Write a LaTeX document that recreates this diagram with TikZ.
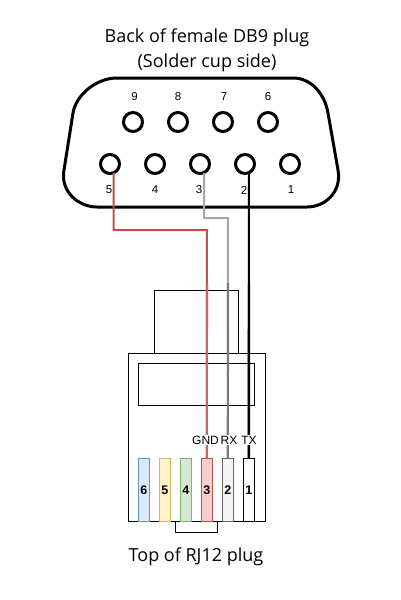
\documentclass[tikz,border=0pt]{standalone}
\usepackage{fontspec}
\setmainfont{Liberation Sans}
\newfontfamily\titlefont{Open Sans}
\definecolor{redw}{HTML}{B85450}
\definecolor{grayw}{HTML}{A6A6A6}
\definecolor{bluef}{HTML}{DAE8FC}\definecolor{blued}{HTML}{6C8EBF}
\definecolor{yelf}{HTML}{FFF2CC}\definecolor{yeld}{HTML}{D6B656}
\definecolor{grnf}{HTML}{D5E8D4}\definecolor{grnd}{HTML}{82B366}
\definecolor{redf}{HTML}{F8CECC}
\definecolor{gryf}{HTML}{F5F5F5}\definecolor{gryd}{HTML}{666666}
\tikzset{
 hole/.style={circle,draw=black,line width=3pt,fill=white,minimum size=19pt,inner sep=0pt},
 pinnum/.style={font=\fontsize{11.5}{12}\selectfont,inner sep=0pt},
 wirelabel/.style={font=\fontsize{12}{12}\selectfont,fill=white,inner sep=1pt},
 caption/.style={font=\titlefont\fontsize{18}{20}\selectfont,inner sep=0pt},
 body/.style={draw=black,line width=1pt,fill=white},
 contact/.style={line width=1pt,minimum width=10.5pt,minimum height=63pt,inner sep=0pt,rectangle,anchor=north,font=\fontsize{12.5}{12}\selectfont},
}
\begin{document}
\begin{tikzpicture}[x=1pt,y=-1pt]
\useasboundingbox (0,0) rectangle (400,600);
\node[caption] at (207,38) {Back of female DB9 plug};
\node[caption] at (207,63) {(Solder cup side)};
% DB9 shell
\draw[line width=3pt,line join=round,fill=white] (117,78) -- (293,78)
  .. controls (312,78) and (325,95) .. (328,113)
  -- (338,170) .. controls (342,192) and (325,207) .. (307,207)
  -- (97,207) .. controls (79,207) and (60,192) .. (64,170)
  -- (73,113) .. controls (76,95) and (96,78) .. (117,78) -- cycle;
\foreach \n/\x in {9/133,8/178,7/223,6/268} \node[hole] (h\n) at (\x,122) {};
\foreach \n/\x in {5/110,4/155,3/200,2/245,1/290} \node[hole] (h\n) at (\x,164) {};
\foreach \n/\x in {9/134.5,8/178,7/224,6/268} \node[pinnum] at (\x,97) {\n};
\foreach \n/\x in {5/109,4/155,3/199,2/244,1/291} \node[pinnum] at (\x,190) {\n};
% RJ12 body
\draw[body] (154.5,290) rectangle (238,353);
\draw[body] (175.5,521) rectangle (217.5,532);
\draw[body] (128,353) rectangle (265,521);
\draw[body] (138.5,363.5) rectangle (254,405);
\node[contact,draw=blued,fill=bluef] (p6) at (143.8,458) {\textbf{6}};
\node[contact,draw=yeld,fill=yelf] (p5) at (164.8,458) {\textbf{5}};
\node[contact,draw=grnd,fill=grnf] (p4) at (185.8,458) {\textbf{4}};
\node[contact,draw=redw,fill=redf] (p3) at (206.8,458) {\textbf{3}};
\node[contact,draw=gryd,fill=gryf] (p2) at (227.8,458) {\textbf{2}};
\node[contact,draw=black,fill=white] (p1) at (248.8,458) {\textbf{1}};
% wires
\coordinate (r0) at (113.5,173);
\coordinate (g0) at (204,173);
\coordinate (b0) at (249,173);
\draw[redw,line width=2pt] (r0) -- (113.5,230) -- (207,230) -- (p3.north);
\draw[grayw,line width=2pt] (g0) -- (204,218) -- (228,218) -- (p2.north);
\draw[black,line width=2pt] (b0) -- (p1.north);
\coordinate (r1) at (207,283); \coordinate (g1) at (228,283); \coordinate (k1) at (249,283);
\draw[redw!80!white,line width=2.6pt,opacity=.7] (r1) -- (p3.north);
\draw[gryd,line width=2.2pt,opacity=.7] (g1) -- (p2.north);
\draw[black,line width=2.4pt] (k1) -- (p1.north);
\node[wirelabel] at (205.5,440) {GND};
\node[wirelabel] at (229,440) {RX};
\node[wirelabel] at (249,440) {TX};
\node[caption] at (196,557) {Top of RJ12 plug};
\end{tikzpicture}
\end{document}
